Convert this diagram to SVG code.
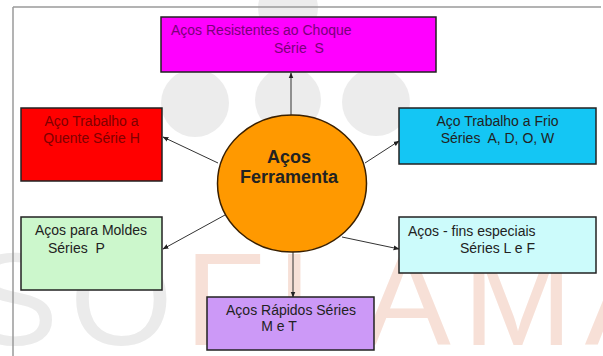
<svg xmlns="http://www.w3.org/2000/svg" width="603" height="356" viewBox="0 0 603 356">
  <defs>
    <marker id="ah" viewBox="0 0 10 10" refX="9" refY="5" markerWidth="6" markerHeight="6" orient="auto" markerUnits="userSpaceOnUse">
      <path d="M0,1 L10,5 L0,9 Z" fill="#222"/>
    </marker>
    <style>
      .box { stroke: #222; stroke-width: 1.5; }
      .t { font-family: "Liberation Sans", Arial, sans-serif; font-size: 14px; fill: #222; white-space: pre; }
      .c { text-anchor: middle; }
      .edge { stroke: #333; stroke-width: 1; fill: none; marker-end: url(#ah); }
      .wm { fill: #ececec; }
    </style>
  </defs>

  <rect x="0" y="0" width="603" height="356" fill="#ffffff"/>

  <!-- watermark -->
  <g id="watermark">
    <circle class="wm" cx="195" cy="103" r="34"/>
    <circle class="wm" cx="288" cy="100" r="33"/>
    <circle class="wm" cx="376" cy="102" r="34"/>
    <circle class="wm" cx="288" cy="8" r="30"/>
    <text x="-30" y="345" font-family="Liberation Sans, Arial, sans-serif" font-size="132" letter-spacing="12"><tspan fill="#ebebeb">SO</tspan><tspan fill="#f7e0d7">FLAMA</tspan></text>
  </g>

  <!-- frame -->
  <g id="frame" stroke="#9a9a9a" stroke-width="1.5" fill="none">
    <line x1="13" y1="7" x2="601" y2="7"/>
    <line x1="13" y1="7" x2="13" y2="356"/>
  </g>

  <g id="connectors">
    <line class="edge" x1="291" y1="115" x2="291" y2="73"/>
    <line class="edge" x1="218" y1="163" x2="163" y2="137"/>
    <line class="edge" x1="365" y1="163" x2="399" y2="141"/>
    <line class="edge" x1="225" y1="215" x2="163" y2="249"/>
    <line class="edge" x1="342" y1="237" x2="399" y2="249"/>
    <line class="edge" x1="293" y1="252" x2="293" y2="297"/>
  </g>

  <g id="node-center">
    <ellipse cx="292" cy="183.5" rx="74.5" ry="68.5" fill="#ff9900" stroke="#3a2000" stroke-width="1.5"/>
    <text x="289" y="163" class="t c" font-size="18" font-weight="bold" fill="#1a1a1a" style="font-size:18px;font-weight:bold">Aços</text>
    <text x="289" y="183" class="t c" style="font-size:18px;font-weight:bold">Ferramenta</text>
  </g>

  <g id="node-choque">
    <rect class="box" x="161" y="17" width="275" height="55" fill="#ff00ff"/>
    <text x="171" y="35" class="t" style="fill:#7a007a">Aços Resistentes ao Choque</text>
    <text x="274" y="53" class="t" style="fill:#7a007a">Série  S</text>
  </g>

  <g id="node-quente">
    <rect class="box" x="21" y="108" width="141" height="73" fill="#ff0000"/>
    <text x="91.5" y="126" class="t c" style="fill:#800000">Aço Trabalho a</text>
    <text x="91.5" y="143" class="t c" style="fill:#800000">Quente Série H</text>
  </g>

  <g id="node-frio">
    <rect class="box" x="399" y="108" width="197" height="56" fill="#14c6f4"/>
    <text x="497.5" y="126" class="t c">Aço Trabalho a Frio</text>
    <text x="497.5" y="143" class="t c">Séries  A, D, O, W</text>
  </g>

  <g id="node-moldes">
    <rect class="box" x="21" y="217" width="141" height="73" fill="#ccf7cc"/>
    <text x="91" y="235" class="t c">Aços para Moldes</text>
    <text x="48" y="253" class="t">Séries  P</text>
  </g>

  <g id="node-especiais">
    <rect class="box" x="399" y="217" width="197" height="56" fill="#ccfbfb"/>
    <text x="408" y="236" class="t">Aços - fins especiais</text>
    <text x="460" y="253" class="t">Séries L e F</text>
  </g>

  <g id="node-rapidos">
    <rect class="box" x="207" y="297" width="167" height="53" fill="#cc99f7"/>
    <text x="291" y="315" class="t c">Aços Rápidos Séries</text>
    <text x="279" y="331" class="t c">M e T</text>
  </g>
</svg>
